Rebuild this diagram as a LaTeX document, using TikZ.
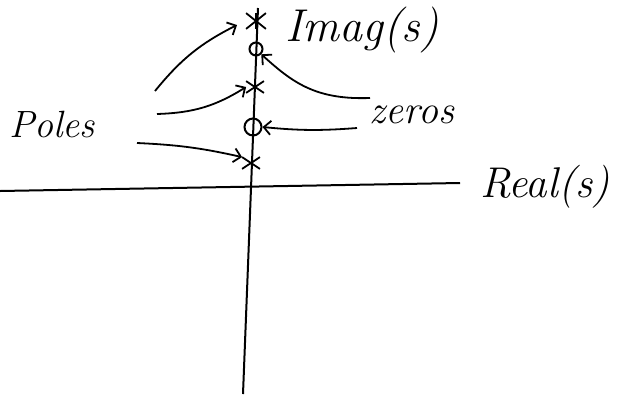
\documentclass[tikz,border=0pt]{standalone}
\usepackage{tikz}
\usetikzlibrary{positioning, arrows.meta, shapes.misc}

\begin{document}
\begin{tikzpicture}[
    x=1pt, y=-1pt,
    axis/.style={line width=2pt},
    pole/.style={
        draw,
        cross out,
        line width=1.8pt,
        minimum width=16pt,
        minimum height=10pt,
        inner sep=0pt
    },
    zero/.style={
        draw,
        circle,
        line width=2pt,
        inner sep=0pt
    },
    lbl/.style={
        font=\fontsize{36}{36}\selectfont\itshape,
        inner sep=0pt
    },
    arrow/.style={-{Straight Barb[length=7pt,width=14pt]}, line width=1.8pt}
]
\useasboundingbox (0,0) rectangle (617,394);

% axes
\coordinate (itop) at (258,8);
\coordinate (ibot) at (243,394);
\coordinate (rleft) at (0,191);
\coordinate (rright) at (460,183);
\draw[axis] (itop) -- (ibot);
\draw[axis] (rleft) -- (rright);

% poles and zeros on the imaginary axis
\node[pole, minimum width=18pt, minimum height=14pt] (p1) at (256,21) {};
\draw[line width=1.8pt] (p1.north) -- (p1.south);
\node[zero, minimum size=13pt] (z1) at (256,49) {};
\node[pole] (p2) at (255,87) {};
\node[zero, minimum size=17pt] (z2) at (253,127) {};
\node[pole] (p3) at (251,163) {};

% labels
\node[lbl, font=\fontsize{46}{46}\selectfont\itshape] (imag) at (362,30) {Imag(s)};
\node[lbl, font=\fontsize{43}{43}\selectfont\itshape] (real) at (545,187) {Real(s)};
\node[lbl, font=\fontsize{38}{38}\selectfont\itshape] (poles) at (52,124) {Poles};
\node[lbl, font=\fontsize{40}{40}\selectfont\itshape] (zeros) at (412,115) {zeros};

% arrows from the labels
\coordinate (pa1) at (155,91);
\coordinate (pa2) at (157,114);
\coordinate (pa3) at (137,143);
\coordinate (za1) at (370,98);
\coordinate (za2) at (357,128);

\draw[arrow] (pa1) to[bend left=12] (237,25);
\draw[arrow] (pa2) to[bend right=15] (p2.west);
\draw[arrow] (pa3) to[bend left=5] (p3.north west);
\draw[arrow] (za1) .. controls (315,100) and (292,82) .. (z1.south east);
\draw[arrow] (za2) to[bend left=5] (z2.east);

\end{tikzpicture}
\end{document}
